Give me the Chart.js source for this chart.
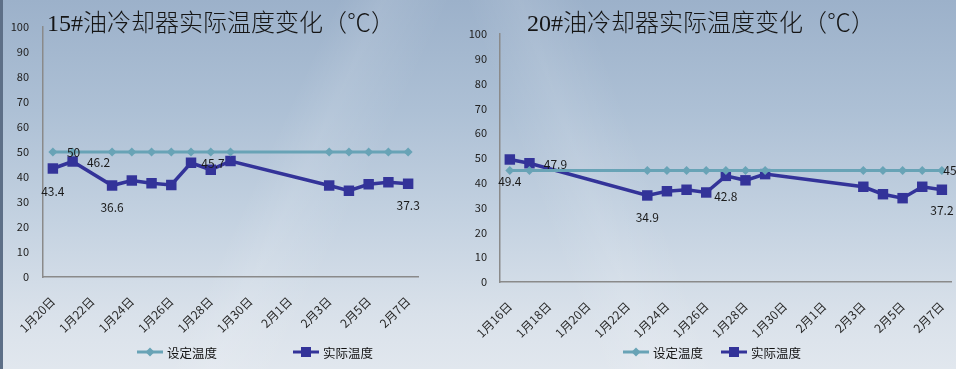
<!DOCTYPE html>
<html>
<head>
<meta charset="utf-8">
<script src="https://cdn.jsdelivr.net/npm/chart.js@4/dist/chart.umd.min.js"></script>
<style>
  html, body { margin: 0; padding: 0; }
  body {
    width: 956px; height: 369px; overflow: hidden; position: relative;
    background:
      linear-gradient(115deg, rgba(255,255,255,0) 30%, rgba(255,255,255,0.10) 34%, rgba(255,255,255,0) 40%),
      linear-gradient(70deg, rgba(255,255,255,0) 55%, rgba(255,255,255,0.10) 60%, rgba(255,255,255,0) 66%),
      linear-gradient(to bottom, #9cb1ca 0%, #adc0d5 30%, #c4d2e1 60%, #d9e1ea 85%, #e1e7ee 100%);
  }
  #edge { position: absolute; left: 0; top: 0; width: 3px; height: 369px; background: #5d6f87; }
  .box { position: absolute; top: 0; height: 369px; }
  #b1 { left: 0; width: 440px; }
  #b2 { left: 446px; width: 510px; }
</style>
</head>
<body>
<div id="edge"></div>
<div class="box" id="b1"><canvas id="c1"></canvas></div>
<div class="box" id="b2"><canvas id="c2"></canvas></div>
<script>
// ---------- data ----------
const leftTitle = '15#油冷却器实际温度变化（℃）';
const leftDates = ['1月20日','1月21日','1月22日','1月23日','1月24日','1月25日','1月26日','1月27日','1月28日','1月29日','1月30日','1月31日','2月1日','2月2日','2月3日','2月4日','2月5日','2月6日','2月7日'];
const leftSet = [50,50,null,50,50,50,50,50,50,50,null,null,null,null,50,50,50,50,50];
const leftAct = [43.4,46.2,null,36.6,38.6,37.5,36.8,45.7,42.9,46.4,null,null,null,null,36.6,34.5,37.1,37.9,37.3];
// labelled points: [index, dx, dy]
const leftActLabels = [[0,0,23],[1,26,1],[3,0,22],[7,22,1],[18,0,22]];
const leftSetLabels = [[1,1,0]];

const rightTitle = '20#油冷却器实际温度变化（℃）';
const rightDates = ['1月16日','1月17日','1月18日','1月19日','1月20日','1月21日','1月22日','1月23日','1月24日','1月25日','1月26日','1月27日','1月28日','1月29日','1月30日','1月31日','2月1日','2月2日','2月3日','2月4日','2月5日','2月6日','2月7日'];
const rightSet = [45,45,null,null,null,null,null,45,45,45,45,45,45,45,null,null,null,null,45,45,45,45,45];
const rightAct = [49.4,47.9,null,null,null,null,null,34.9,36.6,37.2,36.1,42.8,41.0,43.5,null,null,null,null,38.4,35.4,33.8,38.4,37.2];
const rightActLabels = [[0,0,22],[1,26,1],[7,0,22],[11,0,21],[22,0,21]];
const rightSetLabels = [[22,8,0]];

const seriesNames = ['设定温度','实际温度'];
const yTicks = [0,10,20,30,40,50,60,70,80,90,100];

// ---------- style ----------
const SET_COLOR = '#68a3b6';
const ACT_COLOR = '#333399';
const CJK = '"Noto Sans CJK SC", "Noto Sans", sans-serif';

function makeChart(id, cfg) {
  const labelPlugin = {
    id: 'extras',
    afterDatasetsDraw(chart) {
      const ctx = chart.ctx;
      ctx.save();
      ctx.font = '12px ' + CJK;
      ctx.fillStyle = '#1a1a1a';
      ctx.textAlign = 'center';
      ctx.textBaseline = 'middle';
      const draw = (dsIndex, list) => {
        const meta = chart.getDatasetMeta(dsIndex);
        const data = chart.data.datasets[dsIndex].data;
        list.forEach(([i, dx, dy]) => {
          const el = meta.data[i];
          if (!el || data[i] == null) return;
          ctx.fillText(String(data[i]), el.x + dx, el.y + dy);
        });
      };
      draw(0, cfg.setLabels);
      draw(1, cfg.actLabels);
      ctx.restore();
    },
    afterDraw(chart) {
      const ctx = chart.ctx;
      ctx.save();
      // title
      ctx.font = '300 24px "Liberation Serif", "Noto Sans CJK SC", serif';
      ctx.fillStyle = '#151515';
      ctx.textAlign = 'center';
      ctx.textBaseline = 'middle';
      ctx.fillText(cfg.title, cfg.titleX, 25);
      // legend
      ctx.font = '12.5px ' + CJK;
      ctx.textAlign = 'left';
      const y = 352;
      cfg.legendX.forEach((x0, k) => {
        const ds = chart.data.datasets[k];
        ctx.strokeStyle = ds.borderColor;
        ctx.lineWidth = 3;
        ctx.beginPath(); ctx.moveTo(x0, y); ctx.lineTo(x0 + 26, y); ctx.stroke();
        ctx.fillStyle = ds.borderColor;
        const cx = x0 + 13;
        if (k === 0) {
          ctx.beginPath();
          ctx.moveTo(cx - 4.5, y); ctx.lineTo(cx, y - 4.5); ctx.lineTo(cx + 4.5, y); ctx.lineTo(cx, y + 4.5);
          ctx.closePath(); ctx.fill();
        } else {
          ctx.fillRect(cx - 5, y - 5, 10, 10);
        }
        ctx.fillStyle = '#111';
        ctx.fillText(ds.label, x0 + 30, y + 1);
      });
      ctx.restore();
    }
  };

  return new Chart(document.getElementById(id), {
    type: 'line',
    data: {
      labels: cfg.labels,
      datasets: [
        { label: seriesNames[0], data: cfg.set, borderColor: SET_COLOR, backgroundColor: SET_COLOR,
          borderWidth: 3, pointStyle: 'rectRot', pointRadius: 4.5, pointBorderWidth: 0, spanGaps: true, tension: 0, clip: false },
        { label: seriesNames[1], data: cfg.act, borderColor: ACT_COLOR, backgroundColor: ACT_COLOR,
          borderWidth: 3.5, pointStyle: 'rect', pointRadius: 7.4, pointBorderWidth: 0, spanGaps: true, tension: 0, clip: false }
      ]
    },
    options: {
      responsive: true, maintainAspectRatio: false, animation: false,
      layout: { autoPadding: false, padding: { left: 0, top: cfg.top, right: cfg.right, bottom: 0 } },
      plugins: { legend: { display: false }, title: { display: false }, tooltip: { enabled: false } },
      scales: {
        x: {
          offset: true,
          grid: { display: false, drawTicks: false },
          border: { display: true, color: '#8a8a8a', width: 1.5 },
          ticks: {
            autoSkip: false, minRotation: 45, maxRotation: 45, padding: 17,
            color: '#2a2a2a', font: { size: 12, family: CJK },
            callback(v, i) { return i % 2 === 0 ? this.getLabelForValue(v) : ''; }
          },
          afterFit(s) { s.height = cfg.xh; s.paddingLeft = 0; s.paddingRight = 0; }
        },
        y: {
          min: 0, max: 100,
          afterBuildTicks(s) { s.ticks = yTicks.map(v => ({ value: v })); },
          grid: { display: false, drawTicks: false },
          border: { display: true, color: '#8a8a8a', width: 1.5 },
          ticks: { padding: cfg.ypad, color: '#222', font: { size: 11, family: CJK } },
          afterFit(s) { s.width = cfg.yw; s.paddingTop = 0; s.paddingBottom = 0; }
        }
      }
    },
    plugins: [labelPlugin]
  });
}

makeChart('c1', {
  title: leftTitle, titleX: 221, labels: leftDates, set: leftSet, act: leftAct,
  setLabels: leftSetLabels, actLabels: leftActLabels,
  top: 27, right: 22, xh: 92, yw: 43, ypad: 14, legendX: [137, 293]
});
makeChart('c2', {
  title: rightTitle, titleX: 255, labels: rightDates, set: rightSet, act: rightAct,
  setLabels: rightSetLabels, actLabels: rightActLabels,
  top: 34, right: 4.3, xh: 87, yw: 54, ypad: 13, legendX: [623 - 446, 721 - 446]
});
</script>
</body>
</html>
